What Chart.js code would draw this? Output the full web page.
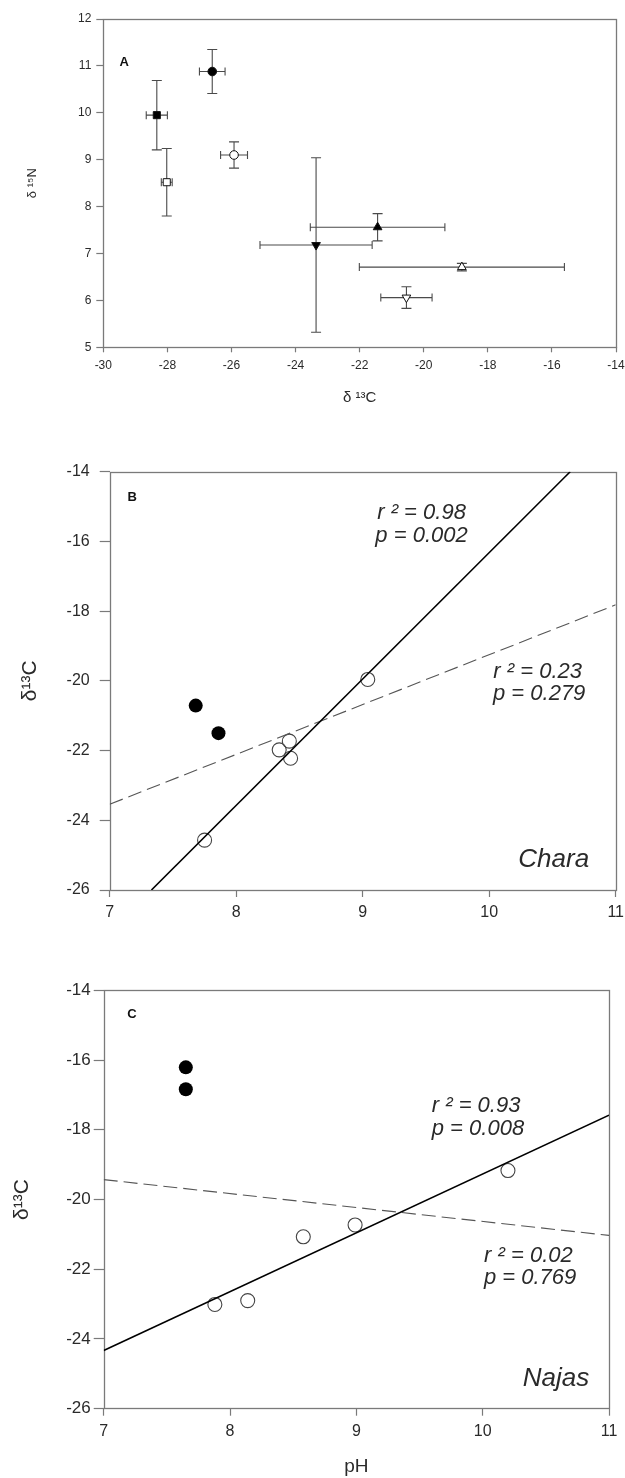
<!DOCTYPE html>
<html><head><meta charset="utf-8">
<script src="https://cdn.jsdelivr.net/npm/chart.js@4.4.0/dist/chart.umd.min.js"></script>
<style>
html,body{margin:0;padding:0;background:#fff;width:625px;height:1478px;overflow:hidden;}
canvas{position:absolute;left:0;}
</style></head><body>
<canvas id="cA" width="625" height="420" style="top:0px"></canvas>
<canvas id="cB" width="625" height="480" style="top:440px"></canvas>
<canvas id="cC" width="625" height="503" style="top:975px"></canvas>
<script>
// ---------- Panel A: d13C vs d15N (means with SE) ----------
const aCarbon   = [-28.33, -26.60, -28.02, -25.92, -23.36, -21.44, -18.81, -20.54];
const aNitrogen = [  9.95,  10.88,   8.52,   9.10,   7.18,   7.56,   6.71,   6.06];
const aCarbonErr   = [0.33, 0.40, 0.17, 0.42, 1.75, 2.10, 3.20, 0.80];
const aNitrogenErr = [0.74, 0.47, 0.72, 0.28, 1.86, 0.29, 0.08, 0.23];
const aXTicks = [-30, -28, -26, -24, -22, -20, -18, -16, -14];
const aYTicks = [5, 6, 7, 8, 9, 10, 11, 12];

// ---------- Panel B: Chara, pH vs d13C ----------
const bFilledPH  = [7.68, 7.86];
const bFilledC   = [-20.71, -21.50];
const bOpenPH    = [7.75, 8.34, 8.42, 8.43, 9.04];
const bOpenC     = [-24.57, -21.98, -21.73, -22.22, -19.96];
const bSolidPH   = [7.33, 10.64];
const bSolidC    = [-26.0, -14.0];
const bDashedPH  = [7.0, 11.0];
const bDashedC   = [-23.54, -17.82];

// ---------- Panel C: Najas, pH vs d13C ----------
const cFilledPH  = [7.65, 7.65];
const cFilledC   = [-16.21, -16.84];
const cOpenPH    = [7.88, 8.14, 8.58, 8.99, 10.20];
const cOpenC     = [-23.01, -22.90, -21.07, -20.73, -19.17];
const cSolidPH   = [7.0, 11.0];
const cSolidC    = [-24.33, -17.58];
const cDashedPH  = [7.0, 11.0];
const cDashedC   = [-19.43, -21.03];

const phTicks = [7, 8, 9, 10, 11];
const c13Ticks = [-26, -24, -22, -20, -18, -16, -14];

const FAM = '"Liberation Sans", Arial, Helvetica, sans-serif';
const AXIS = '#7a7a7a';
const TXT = '#2a2a2a';

const pts = (xs, ys) => xs.map((x, i) => ({x: x, y: ys[i]}));

const extras = {
  id: 'extras',
  beforeDatasetsDraw(chart, args, o) {
    const {ctx, chartArea: ca, scales: {x, y}} = chart;
    ctx.save();
    ctx.strokeStyle = AXIS; ctx.lineWidth = 1.3;
    ctx.strokeRect(Math.round(ca.left) + 0.5, Math.round(ca.top) + 0.5,
                   Math.round(ca.right - ca.left), Math.round(ca.bottom - ca.top));
    if (o.errors) {
      const e = o.errors;
      ctx.strokeStyle = '#4a4a4a'; ctx.lineWidth = 1.1;
      e.x.forEach((xv, i) => {
        const yv = e.y[i];
        const px = x.getPixelForValue(xv), py = y.getPixelForValue(yv);
        const x0 = x.getPixelForValue(xv - e.xErr[i]), x1 = x.getPixelForValue(xv + e.xErr[i]);
        const y0 = y.getPixelForValue(yv - e.yErr[i]), y1 = y.getPixelForValue(yv + e.yErr[i]);
        ctx.beginPath();
        ctx.moveTo(x0, py); ctx.lineTo(x1, py);
        ctx.moveTo(x0, py - 4); ctx.lineTo(x0, py + 4);
        ctx.moveTo(x1, py - 4); ctx.lineTo(x1, py + 4);
        ctx.moveTo(px, y0); ctx.lineTo(px, y1);
        ctx.moveTo(px - 5, y0); ctx.lineTo(px + 5, y0);
        ctx.moveTo(px - 5, y1); ctx.lineTo(px + 5, y1);
        ctx.stroke();
      });
    }
    ctx.restore();
  },
  afterDatasetsDraw(chart, args, o) {
    const {ctx, scales: {x, y}} = chart;
    if (!o.labels) return;
    ctx.save();
    o.labels.forEach(l => {
      ctx.font = l.font;
      ctx.fillStyle = l.color || TXT;
      ctx.textAlign = l.align || 'left';
      ctx.textBaseline = l.baseline || 'alphabetic';
      ctx.fillText(l.text, x.getPixelForValue(l.x), y.getPixelForValue(l.y));
    });
    ctx.restore();
  }
};

function axis(min, max, ticks, fontSize, tickLen, pad, fitFn, title) {
  return {
    type: 'linear', min: min, max: max,
    afterBuildTicks: s => { s.ticks = ticks.map(v => ({value: v})); },
    ticks: {autoSkip: false, maxRotation: 0, color: TXT, padding: pad, font: {family: FAM, size: fontSize}},
    grid: {drawOnChartArea: false, drawTicks: true, tickLength: tickLen, tickColor: AXIS, tickWidth: 1.2},
    border: {display: false},
    title: title,
    afterFit: s => {
      fitFn(s);
      s.paddingLeft = 0; s.paddingRight = 0; s.paddingTop = 0; s.paddingBottom = 0;
    }
  };
}

function baseOptions(pad, scales, plug) {
  return {
    responsive: false, animation: false, devicePixelRatio: 1,
    layout: {autoPadding: false, padding: pad},
    plugins: {legend: {display: false}, tooltip: {enabled: false}, extras: plug},
    scales: scales
  };
}

// ---------- Chart A ----------
new Chart(document.getElementById('cA'), {
  type: 'scatter',
  data: {datasets: [{
    data: pts(aCarbon, aNitrogen),
    pointStyle: ['rect', 'circle', 'rect', 'circle', 'triangle', 'triangle', 'triangle', 'triangle'],
    pointRotation: [0, 0, 0, 0, 180, 0, 0, 180],
    pointRadius: [5, 4.3, 5, 4.3, 5, 5, 5, 5],
    pointBackgroundColor: ['#000', '#000', '#fff', '#fff', '#000', '#000', '#fff', '#fff'],
    pointBorderColor: '#111', pointBorderWidth: 1
  }]},
  options: baseOptions({top: 19, right: 9, bottom: 0, left: 0}, {
    x: axis(-30, -14, aXTicks, 12, 5, 6, s => { s.height = 420 - 347.3; },
      {display: true, text: 'δ ¹³C', color: TXT, font: {family: FAM, size: 15}, padding: {top: 0, bottom: 13}}),
    y: axis(5, 12, aYTicks, 12, 7, 5, s => { s.width = 103.3; },
      {display: true, text: 'δ ¹⁵N', color: TXT, font: {family: FAM, size: 13}, padding: {top: 25, bottom: 0}})
  }, {
    errors: {x: aCarbon, y: aNitrogen, xErr: aCarbonErr, yErr: aNitrogenErr},
    labels: [{text: 'A', x: -29.35, y: 11.08, font: 'bold 13px ' + FAM, align: 'center', baseline: 'middle', color: '#111'}]
  }),
  plugins: [extras]
});

function pHChart(id, H, pad, xFit, yFit, yTickFont, yTickPad, yTitlePad, xTitle, sets, labels) {
  return new Chart(document.getElementById(id), {
    type: 'scatter',
    data: {datasets: [
      {data: pts(sets.solidX, sets.solidY), showLine: true, pointRadius: 0, borderColor: '#000', borderWidth: 1.6},
      {data: pts(sets.dashX, sets.dashY), showLine: true, pointRadius: 0, borderColor: '#555', borderWidth: 1.1, borderDash: [14, 6]},
      {data: pts(sets.openX, sets.openY), pointRadius: 7, pointBackgroundColor: 'rgba(255,255,255,0)', pointBorderColor: '#444', pointBorderWidth: 1.1},
      {data: pts(sets.fillX, sets.fillY), pointRadius: 7, pointBackgroundColor: '#000', pointBorderColor: '#000', pointBorderWidth: 0}
    ]},
    options: baseOptions(pad, {
      x: axis(7, 11, phTicks, 16, 7, 6, s => { s.height = H - xFit; }, xTitle),
      y: axis(-26, -14, c13Ticks, yTickFont, 10, yTickPad, s => { s.width = yFit; },
        {display: true, text: 'δ¹³C', color: TXT, font: {family: FAM, size: 21}, padding: {top: yTitlePad, bottom: 0}})
    }, {labels: labels}),
    plugins: [extras]
  });
}

const IT = 'italic 22px ' + FAM;
const IT2 = 'italic 26px ' + FAM;

pHChart('cB', 480, {top: 31.7, right: 9.3, bottom: 0, left: 0}, 450, 109.7, 16, 10, 18,
  {display: false},
  {solidX: bSolidPH, solidY: bSolidC, dashX: bDashedPH, dashY: bDashedC,
   openX: bOpenPH, openY: bOpenC, fillX: bFilledPH, fillY: bFilledC},
  [
    {text: 'B', x: 7.177, y: -14.73, font: 'bold 13px ' + FAM, align: 'center', baseline: 'middle', color: '#111'},
    {text: 'r ² = 0.98', x: 9.115, y: -15.36, font: IT},
    {text: 'p = 0.002', x: 9.10, y: -16.01, font: IT},
    {text: 'r ² = 0.23', x: 10.033, y: -19.91, font: IT},
    {text: 'p = 0.279', x: 10.03, y: -20.55, font: IT},
    {text: 'Chara', x: 10.23, y: -25.33, font: IT2}
  ]);

pHChart('cC', 503, {top: 15.3, right: 16, bottom: 0, left: 0}, 433.7, 103.7, 17, 3, 10,
  {display: true, text: 'pH', color: TXT, font: {family: FAM, size: 19}, padding: {top: 0, bottom: 0}},
  {solidX: cSolidPH, solidY: cSolidC, dashX: cDashedPH, dashY: cDashedC,
   openX: cOpenPH, openY: cOpenC, fillX: cFilledPH, fillY: cFilledC},
  [
    {text: 'C', x: 7.223, y: -14.68, font: 'bold 13px ' + FAM, align: 'center', baseline: 'middle', color: '#111'},
    {text: 'r ² = 0.93', x: 9.597, y: -17.48, font: IT},
    {text: 'p = 0.008', x: 9.597, y: -18.15, font: IT},
    {text: 'r ² = 0.02', x: 10.011, y: -21.78, font: IT},
    {text: 'p = 0.769', x: 10.01, y: -22.42, font: IT},
    {text: 'Najas', x: 10.317, y: -25.35, font: IT2}
  ]);
</script>
</body></html>
